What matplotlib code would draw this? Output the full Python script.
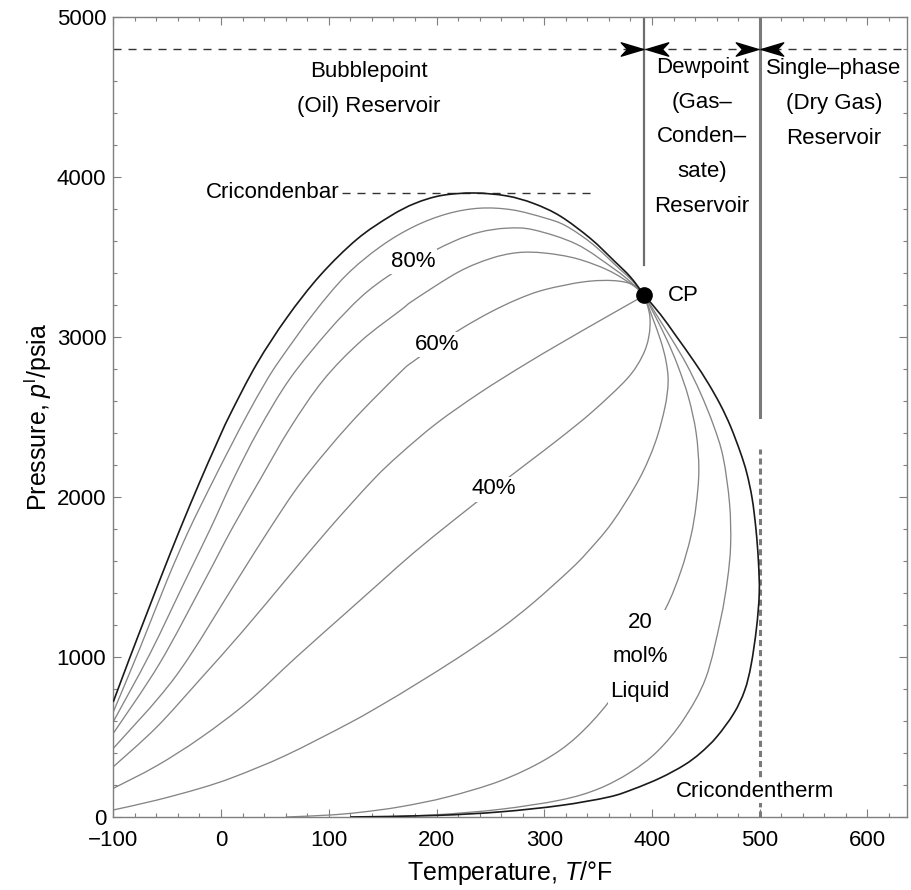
import matplotlib
matplotlib.use("Agg")
import matplotlib.pyplot as plt
from matplotlib.path import Path
from matplotlib.patches import PathPatch
from matplotlib.ticker import MultipleLocator

plt.rcParams["font.family"] = ["Liberation Sans", "DejaVu Sans"]
plt.rcParams["mathtext.fontset"] = "custom"
plt.rcParams["mathtext.rm"] = "Liberation Sans"
plt.rcParams["mathtext.it"] = "Liberation Sans:italic"

# Phase envelope: bubblepoint branch (100 % liquid) and dewpoint branch (0 %)
bubble_T = [-100, -85, -69, -54, -38, -20, -5, 8, 33, 61, 92, 126, 157, 180, 205,
            235, 265, 290, 315, 343, 365, 380, 393]
bubble_P = [720, 990, 1270, 1530, 1800, 2090, 2320, 2510, 2830, 3120, 3385, 3610,
            3755, 3835, 3885, 3900, 3882, 3835, 3755, 3615, 3475, 3375, 3260]
dew_T = [120, 200, 259, 315, 360, 383, 408, 430, 445, 460, 476, 486, 492, 497,
         499.6, 498.8, 496.5, 493, 488, 482, 473, 463.6, 452, 438.8, 422, 408, 393]
dew_P = [0, 10, 32, 72, 125, 175, 245, 325, 400, 500, 648, 790, 950, 1180,
         1400, 1600, 1800, 1990, 2150, 2280, 2440, 2575, 2713, 2850, 3010, 3140, 3260]

# Quality lines (mol% liquid), all ending at the critical point
q90_T = [-100, -75, -50, -30, -7, 10, 24, 42, 55, 86, 116, 148, 179, 210, 240,
         270, 300, 320, 345, 370, 382, 393]
q90_P = [657, 1060, 1481, 1790, 2106, 2330, 2510, 2725, 2860, 3148, 3385, 3565,
         3690, 3770, 3805, 3795, 3745, 3695, 3580, 3425, 3350, 3260]
q80_T = [-100, -66, -33, -10, 11, 35, 64, 100, 130, 155, 178, 215, 240, 265, 290,
         330, 365, 380, 393]
q80_P = [596, 1020, 1481, 1800, 2106, 2420, 2740, 3040, 3250, 3380, 3470, 3595,
         3655, 3680, 3670, 3580, 3425, 3345, 3260]
q70_T = [-100, -57, -15, 10, 36, 64, 95, 130, 167, 179, 220, 250, 275, 300, 330,
         360, 383, 393]
q70_P = [523, 960, 1481, 1800, 2106, 2430, 2731, 2975, 3169, 3231, 3405, 3490,
         3527, 3525, 3490, 3415, 3320, 3260]
q60_T = [-100, -42, 15, 45, 76, 120, 166.5, 178.6, 201, 225, 250, 275, 300, 337,
         365, 383, 393]
q60_P = [429, 880, 1481, 1800, 2106, 2460, 2780, 2848, 2955, 3060, 3155, 3235,
         3295, 3345, 3352, 3325, 3260]
q50_T = [-100, -60, -20, 20, 60, 100, 141, 166.5, 200, 240, 280, 315, 355, 393]
q50_P = [314, 560, 856, 1160, 1481, 1800, 2106, 2270, 2460, 2650, 2820, 2960,
         3115, 3260]
q40_T = [-100, -60, -19, 25, 70, 120, 150, 178.6, 216, 253, 285, 315, 345, 377,
         391, 397, 398, 393]
q40_P = [179, 319, 495, 720, 1000, 1300, 1480, 1650, 1855, 2050, 2215, 2370, 2535,
         2740, 2880, 3000, 3130, 3260]
q30_T = [-100, -60, -19, 12, 60, 120, 154, 178.6, 220, 259, 290, 324, 340, 363,
         388, 403, 412, 415, 413, 408, 400, 393]
q30_P = [44, 105, 180, 250, 385, 590, 720, 820, 995, 1175, 1340, 1545, 1655, 1840,
         2110, 2340, 2560, 2720, 2850, 2980, 3130, 3260]
q20_T = [60, 100, 130, 166.5, 210, 259, 300, 330, 360, 386, 412.5, 426.5, 436, 441,
         443.5, 441, 434, 424, 414, 403, 393]
q20_P = [0, 12, 30, 64, 125, 225, 355, 500, 720, 990, 1300, 1530, 1752, 1950,
         2169, 2400, 2620, 2820, 2980, 3130, 3260]
q10_T = [150, 200, 259, 315, 350, 380, 405, 429, 450, 463.6, 470, 473, 472, 466,
         457, 445, 432, 418, 405, 393]
q10_P = [0, 14, 48, 106, 175, 280, 410, 606, 870, 1231, 1481, 1700, 1960, 2250,
         2450, 2650, 2830, 2990, 3130, 3260]

quality_lines = [(q90_T, q90_P), (q80_T, q80_P), (q70_T, q70_P), (q60_T, q60_P),
                 (q50_T, q50_P), (q40_T, q40_P), (q30_T, q30_P), (q20_T, q20_P),
                 (q10_T, q10_P)]

# Critical point and reference values
cp_T, cp_P = 393, 3260
cricondenbar_P = 3900
cricondentherm_T = 500
boundary_P = 4800

# Labels sitting on quality lines
line_labels = ["80%", "60%", "40%", "20\nmol%\nLiquid"]
line_label_T = [178, 201, 253, 389]
line_label_P = [3470, 2955, 2050, 1000]

FS = 16
LS = 1.87
GRAY = "#7f7f7f"


def smooth_path(xs, ys):
    """Catmull-Rom curve through the points, as cubic Bezier segments."""
    pts = list(zip(xs, ys))
    n = len(pts)
    verts = [pts[0]]
    codes = [Path.MOVETO]
    for i in range(n - 1):
        p0 = pts[max(i - 1, 0)]
        p1 = pts[i]
        p2 = pts[i + 1]
        p3 = pts[min(i + 2, n - 1)]
        c1 = (p1[0] + (p2[0] - p0[0]) / 6, p1[1] + (p2[1] - p0[1]) / 6)
        c2 = (p2[0] - (p3[0] - p1[0]) / 6, p2[1] - (p3[1] - p1[1]) / 6)
        verts += [c1, c2, p2]
        codes += [Path.CURVE4] * 3
    return Path(verts, codes)


fig = plt.figure(figsize=(9.11, 8.90), dpi=100)
ax = fig.add_axes([113.3 / 911, 73 / 890, 794 / 911, 800 / 890])
ax.set_xlim(-100, 637)
ax.set_ylim(0, 5000)

for T, P in quality_lines:
    ax.add_patch(PathPatch(smooth_path(T, P), fill=False, edgecolor="#858585",
                           lw=0.95, zorder=2))
for T, P in [(bubble_T, bubble_P), (dew_T, dew_P)]:
    ax.add_patch(PathPatch(smooth_path(T, P), fill=False, edgecolor="#1a1a1a",
                           lw=1.2, zorder=3))

for text, T, P in zip(line_labels, line_label_T, line_label_P):
    ax.text(T, P, text, fontsize=FS, ha="center", va="center", linespacing=LS,
            bbox=dict(facecolor="white", edgecolor="none", pad=1.5), zorder=4)

ax.plot([cp_T], [cp_P], "o", color="black", ms=11, zorder=5)
ax.text(cp_T + 22, cp_P, "CP", fontsize=FS, ha="left", va="center")

# Reservoir-type boundaries
ax.plot([cp_T, cp_T], [3450, 5000], color="#6e6e6e", lw=1.6, zorder=2)
ax.plot([cricondentherm_T] * 2, [2500, 5000], color="#7a7a7a", lw=2.2, zorder=2)
ax.plot([cricondentherm_T] * 2, [0, 2300], color="#7a7a7a", lw=2.2,
        ls=(0, (2, 1.3)), zorder=2)
ax.plot([-100, 637], [boundary_P] * 2, color="#333333", lw=1.0, ls=(0, (5.8, 5)))
ax.plot([112, 348], [cricondenbar_P] * 2, color="#333333", lw=1.0, ls=(0, (5.8, 5)))

arrow_r = Path([(0, 0), (-1, 0.3), (-0.72, 0), (-1, -0.3), (0, 0)],
               [Path.MOVETO, Path.LINETO, Path.LINETO, Path.LINETO, Path.CLOSEPOLY])
arrow_l = Path([(0, 0), (1, 0.3), (0.72, 0), (1, -0.3), (0, 0)],
               [Path.MOVETO, Path.LINETO, Path.LINETO, Path.LINETO, Path.CLOSEPOLY])
for xb in [cp_T, cricondentherm_T]:
    ax.plot([xb - 1.5], [boundary_P], marker=arrow_r, ms=32, color="black",
            ls="none", zorder=4)
    ax.plot([xb + 1.5], [boundary_P], marker=arrow_l, ms=32, color="black",
            ls="none", zorder=4)

ax.text(137, 4548, "Bubblepoint\n(Oil) Reservoir", fontsize=FS, ha="center",
        va="center", linespacing=LS)
ax.text(446.5, 4250, "Dewpoint\n(Gas\u2013\nConden\u2013\nsate)\nReservoir",
        fontsize=FS, ha="center", va="center", linespacing=LS)
ax.text(569, 4462, "Single\u2013phase\n(Dry Gas)\nReservoir", fontsize=FS,
        ha="center", va="center", linespacing=LS)
ax.text(110, cricondenbar_P, "Cricondenbar", fontsize=FS, ha="right", va="center")
ax.text(496, 162, "Cricondentherm", fontsize=FS, ha="center", va="center",
        bbox=dict(facecolor="white", edgecolor="none", pad=1.0), zorder=4)

# Frame with inward ticks on all four sides
for s in ax.spines.values():
    s.set_color(GRAY)
    s.set_linewidth(1.0)
ax.xaxis.set_major_locator(MultipleLocator(100))
ax.xaxis.set_minor_locator(MultipleLocator(20))
ax.yaxis.set_major_locator(MultipleLocator(1000))
ax.yaxis.set_minor_locator(MultipleLocator(200))
ax.tick_params(which="both", direction="in", top=True, right=True, color=GRAY,
               width=0.8, labelsize=FS, labelcolor="black")
ax.tick_params(which="major", length=5.5)
ax.tick_params(which="minor", length=3)
ax.tick_params(axis="x", pad=9.5)
ax.tick_params(axis="y", pad=5)

fig.text(510 / 911, 17 / 890, r"Temperature, $T$/°F", fontsize=18,
         ha="center", va="center")
fig.text(38 / 911, 1 - 417 / 890, r"Pressure, $p^{\mathrm{l}}$/psia", fontsize=18,
         ha="center", va="center", rotation=90)

fig.savefig("out.png", dpi=100, facecolor="white")
